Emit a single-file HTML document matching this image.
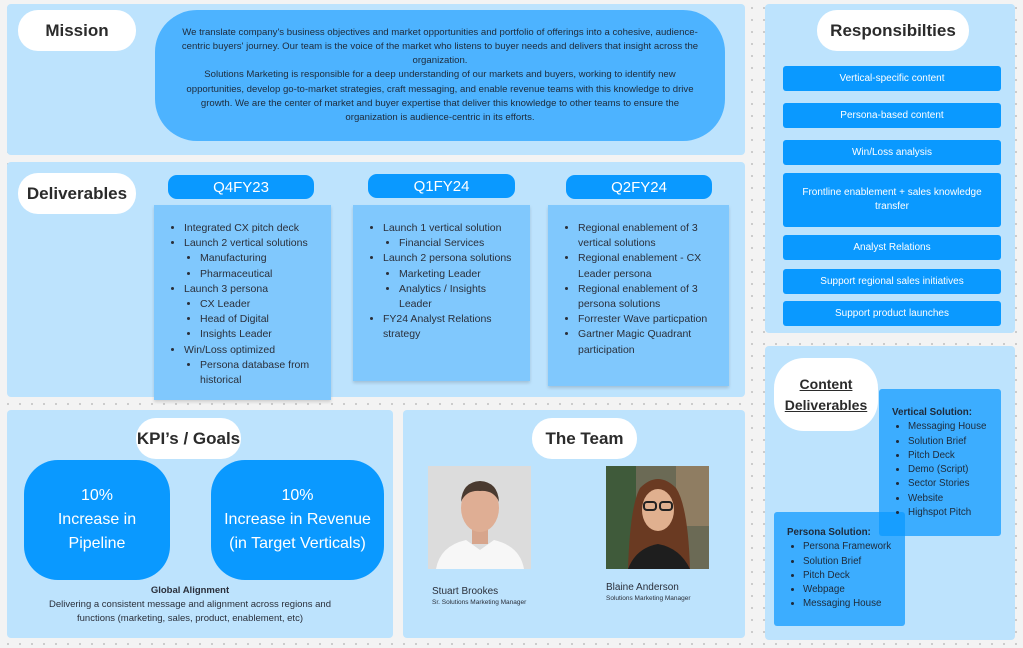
<!DOCTYPE html>
<html><head><meta charset="utf-8"><style>
*{margin:0;padding:0;box-sizing:border-box}
body{width:1023px;height:648px;position:relative;overflow:hidden;font-family:"Liberation Sans",sans-serif;color:#2a2f3a;
background-color:#f3f3f3;background-image:radial-gradient(circle,#c4c4c4 0.8px,transparent 1.2px);background-size:12px 12px;background-position:2px 2px}
.a{position:absolute}
.panel{background:#bde3fd;border-radius:4px}
.lbl{background:#fff;border-radius:20px;display:flex;align-items:center;justify-content:center;font-weight:bold;font-size:17px;color:#2b2b2b}
.pill{background:#0a99ff;color:#fff;border-radius:9px;display:flex;align-items:center;justify-content:center;font-size:15px}
.card{background:#80c8fd;box-shadow:0 2px 3px rgba(0,0,0,.15);font-size:10.5px;line-height:15.2px;padding:16px 14px 0 20px}
.card ul{list-style:disc;padding-left:10px}
.card ul ul{padding-left:16px}
.btn{background:#0a99ff;color:#fff;border-radius:3px;display:flex;align-items:center;justify-content:center;text-align:center;font-size:10px;line-height:14px;padding:0 18px}
.kpi{background:#0a99ff;color:#fff;border-radius:34px;display:flex;align-items:center;justify-content:center;text-align:center;font-size:16px;line-height:24px}
.box{background:#0a99ff;opacity:.72;border-radius:3px}
.lst{font-size:9.8px;line-height:14.3px;color:#1e2a3a}
.lst ul{padding-left:16px}
</style></head><body>

<!-- Mission -->
<div class="a panel" style="left:7px;top:4px;width:738px;height:151px"></div>
<div class="a lbl" style="left:18px;top:10px;width:118px;height:41px">Mission</div>
<div class="a" style="left:155px;top:10px;width:570px;height:131px;background:#4db3ff;border-radius:42px;display:flex;align-items:center;justify-content:center;text-align:center;font-size:9.6px;line-height:14.2px;color:#1e2a3a;white-space:nowrap">
<div>We translate company's business objectives and market opportunities and portfolio of offerings into a cohesive, audience-<br>centric buyers' journey. Our team is the voice of the market who listens to buyer needs and delivers that insight across the<br>organization.<br>Solutions Marketing is responsible for a deep understanding of our markets and buyers, working to identify new<br>opportunities, develop go-to-market strategies, craft messaging, and enable revenue teams with this knowledge to drive<br>growth. We are the center of market and buyer expertise that deliver this knowledge to other teams to ensure the<br>organization is audience-centric in its efforts.</div></div>

<!-- Deliverables -->
<div class="a panel" style="left:7px;top:162px;width:738px;height:235px"></div>
<div class="a lbl" style="left:18px;top:173px;width:118px;height:41px">Deliverables</div>
<div class="a pill" style="left:168px;top:175px;width:146px;height:24px">Q4FY23</div>
<div class="a pill" style="left:368px;top:174px;width:147px;height:24px">Q1FY24</div>
<div class="a pill" style="left:566px;top:175px;width:146px;height:24px">Q2FY24</div>
<div class="a card" style="left:154px;top:205px;width:177px;height:195px"><ul>
<li>Integrated CX pitch deck</li><li>Launch 2 vertical solutions<ul><li>Manufacturing</li><li>Pharmaceutical</li></ul></li>
<li>Launch 3 persona<ul><li>CX Leader</li><li>Head of Digital</li><li>Insights Leader</li></ul></li>
<li>Win/Loss optimized<ul><li>Persona database from historical</li></ul></li></ul></div>
<div class="a card" style="left:353px;top:205px;width:177px;height:176px"><ul>
<li>Launch 1 vertical solution<ul><li>Financial Services</li></ul></li>
<li>Launch 2 persona solutions<ul><li>Marketing Leader</li><li>Analytics / Insights Leader</li></ul></li>
<li>FY24 Analyst Relations strategy</li></ul></div>
<div class="a card" style="left:548px;top:205px;width:181px;height:181px"><ul>
<li>Regional enablement of 3 vertical solutions</li><li>Regional enablement - CX Leader persona</li><li>Regional enablement of 3 persona solutions</li><li>Forrester Wave particpation</li><li>Gartner Magic Quadrant participation</li></ul></div>

<!-- Responsibilities -->
<div class="a panel" style="left:765px;top:4px;width:250px;height:329px"></div>
<div class="a lbl" style="left:817px;top:10px;width:152px;height:41px">Responsibilties</div>
<div class="a btn" style="left:783px;top:66px;width:218px;height:25px">Vertical-specific content</div>
<div class="a btn" style="left:783px;top:103px;width:218px;height:25px">Persona-based content</div>
<div class="a btn" style="left:783px;top:140px;width:218px;height:25px">Win/Loss analysis</div>
<div class="a btn" style="left:783px;top:173px;width:218px;height:54px">Frontline enablement + sales knowledge transfer</div>
<div class="a btn" style="left:783px;top:235px;width:218px;height:25px">Analyst Relations</div>
<div class="a btn" style="left:783px;top:269px;width:218px;height:25px">Support regional sales initiatives</div>
<div class="a btn" style="left:783px;top:301px;width:218px;height:25px">Support product launches</div>

<!-- Content Deliverables -->
<div class="a panel" style="left:765px;top:346px;width:250px;height:294px"></div>
<div class="a lbl" style="left:774px;top:358px;width:104px;height:73px;border-radius:30px;font-size:14px;line-height:21px;text-align:center;text-decoration:underline">Content<br>Deliverables</div>
<div class="a box" style="left:879px;top:389px;width:122px;height:147px"></div>
<div class="a box" style="left:774px;top:512px;width:131px;height:114px"></div>
<div class="a lst" style="left:892px;top:406px"><b>Vertical Solution:</b><ul><li>Messaging House</li><li>Solution Brief</li><li>Pitch Deck</li><li>Demo (Script)</li><li>Sector Stories</li><li>Website</li><li>Highspot Pitch</li></ul></div>
<div class="a lst" style="left:787px;top:526px"><b>Persona Solution:</b><ul><li>Persona Framework</li><li>Solution Brief</li><li>Pitch Deck</li><li>Webpage</li><li>Messaging House</li></ul></div>

<!-- KPI -->
<div class="a panel" style="left:7px;top:410px;width:386px;height:228px"></div>
<div class="a lbl" style="left:136px;top:418px;width:105px;height:41px">KPI’s / Goals</div>
<div class="a kpi" style="left:24px;top:460px;width:146px;height:120px">10%<br>Increase in<br>Pipeline</div>
<div class="a kpi" style="left:211px;top:460px;width:173px;height:120px">10%<br>Increase in Revenue<br>(in Target Verticals)</div>
<div class="a" style="left:40px;top:584px;width:300px;text-align:center;font-size:9.5px;line-height:14px"><b>Global Alignment</b><br>Delivering a consistent message and alignment across regions and functions (marketing, sales, product, enablement, etc)</div>

<!-- Team -->
<div class="a panel" style="left:403px;top:410px;width:342px;height:228px"></div>
<div class="a lbl" style="left:532px;top:418px;width:105px;height:41px">The Team</div>
<svg class="a" style="left:428px;top:466px" width="103" height="103" viewBox="0 0 103 103">
<rect width="103" height="103" fill="#dcdcdc"/>
<path d="M8 103 Q12 80 38 74 L52 84 L66 74 Q92 80 96 103Z" fill="#f7f7f7"/>
<rect x="44" y="60" width="16" height="18" fill="#d7a58c"/>
<ellipse cx="52" cy="42" rx="19" ry="24" fill="#dfae94"/>
<path d="M33 36 Q34 16 52 15 Q70 16 71 36 Q66 24 52 25 Q38 24 33 36Z" fill="#4a3a30"/>
</svg>
<svg class="a" style="left:606px;top:466px" width="103" height="103" viewBox="0 0 103 103">
<rect width="103" height="103" fill="#6b6a55"/>
<rect x="0" y="0" width="30" height="103" fill="#3f5a3a"/>
<rect x="70" y="0" width="33" height="60" fill="#8f7d62"/>
<path d="M22 103 Q24 40 34 22 Q52 4 70 22 Q82 40 84 103Z" fill="#6a3a22"/>
<path d="M22 103 Q30 82 52 78 Q74 82 84 103Z" fill="#1e1e1e"/>
<ellipse cx="52" cy="44" rx="16" ry="21" fill="#e0b08f"/>
<rect x="38" y="36" width="12" height="8" rx="3" fill="none" stroke="#222" stroke-width="2"/>
<rect x="54" y="36" width="12" height="8" rx="3" fill="none" stroke="#222" stroke-width="2"/>
</svg>
<div class="a" style="left:432px;top:586px;font-size:10px;color:#2a2f3a">Stuart Brookes</div>
<div class="a" style="left:432px;top:599px;font-size:6.5px;color:#2a2f3a">Sr. Solutions Marketing Manager</div>
<div class="a" style="left:606px;top:582px;font-size:10px;color:#2a2f3a">Blaine Anderson</div>
<div class="a" style="left:606px;top:595px;font-size:6.5px;color:#2a2f3a">Solutions Marketing Manager</div>
</body></html>
